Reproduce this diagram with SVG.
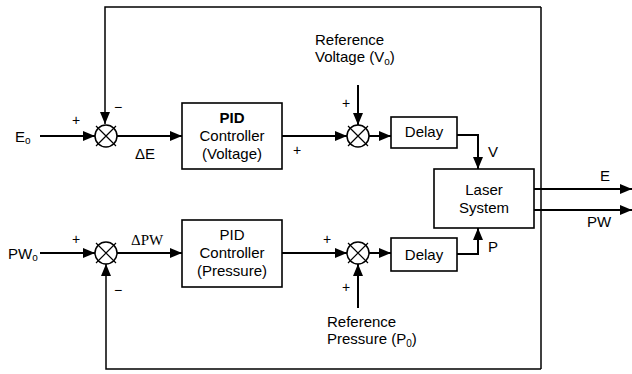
<svg xmlns="http://www.w3.org/2000/svg" width="632" height="374" viewBox="0 0 632 374">
<style>
.box{fill:#fff;stroke:#000;stroke-width:1.6}
.sum circle{fill:#fff;stroke:#000;stroke-width:1.5}
.sum path{stroke:#000;stroke-width:1.2;fill:none}
.w{stroke:#000;stroke-width:2;fill:none}
.fb{stroke:#000;stroke-width:1.5;fill:none}
text{font-family:"Liberation Sans",Arial,sans-serif;font-size:15px;fill:#000}
.c{text-anchor:middle}
.b{font-weight:bold}
.s{font-size:14px}
.serif{font-family:"Liberation Serif","Times New Roman",serif}
</style>
<defs>
<marker id="arr" markerUnits="userSpaceOnUse" viewBox="0 0 12 10" refX="12" refY="5" markerWidth="12" markerHeight="10" orient="auto">
<path d="M0,0 L12,5 L0,10 Z" fill="#000"/>
</marker>
</defs>
<g id="connectors">
<path class="fb" d="M541,7 V369"/>
<path class="fb" d="M541,7 H105 V124" marker-end="url(#arr)"/>
<path class="fb" d="M541,369 H106 V264" marker-end="url(#arr)"/>
<path class="w" d="M40,136 H95" marker-end="url(#arr)"/>
<path class="w" d="M117,136 H182" marker-end="url(#arr)"/>
<path class="w" d="M282,136 H347" marker-end="url(#arr)"/>
<path class="w" d="M358,85 V125" marker-end="url(#arr)"/>
<path class="w" d="M369,136 H391" marker-end="url(#arr)"/>
<path class="w" d="M457,135 H478 V169" marker-end="url(#arr)"/>
<path class="w" d="M534,189 H632" marker-end="url(#arr)"/>
<path class="w" d="M534,210 H632" marker-end="url(#arr)"/>
<path class="w" d="M40,253 H95" marker-end="url(#arr)"/>
<path class="w" d="M117,253 H182" marker-end="url(#arr)"/>
<path class="w" d="M282,253 H347" marker-end="url(#arr)"/>
<path class="w" d="M358,308 V264" marker-end="url(#arr)"/>
<path class="w" d="M369,253 H391" marker-end="url(#arr)"/>
<path class="w" d="M457,254 H478 V228" marker-end="url(#arr)"/>
</g>
<g id="sum1" class="sum"><circle cx="106" cy="136" r="11"/><path d="M96,126 L116,146 M116,126 L96,146"/></g>
<g id="sum2" class="sum"><circle cx="358" cy="136" r="11"/><path d="M348,126 L368,146 M368,126 L348,146"/></g>
<g id="sum3" class="sum"><circle cx="106" cy="253" r="11"/><path d="M96,243 L116,263 M116,243 L96,263"/></g>
<g id="sum4" class="sum"><circle cx="358" cy="253" r="11"/><path d="M348,243 L368,263 M368,243 L348,263"/></g>
<g id="pid_v"><rect class="box" x="182" y="103" width="100" height="66"/>
<text class="c b" x="232" y="123">PID</text><text class="c" x="232" y="141">Controller</text><text class="c" x="232" y="159">(Voltage)</text></g>
<g id="pid_p"><rect class="box" x="182" y="220" width="100" height="67"/>
<text class="c" x="232" y="240">PID</text><text class="c" x="232" y="258">Controller</text><text class="c" x="232" y="276">(Pressure)</text></g>
<g id="delay_v"><rect class="box" x="391" y="117" width="66" height="31"/><text class="c" x="424" y="137">Delay</text></g>
<g id="delay_p"><rect class="box" x="391" y="238" width="66" height="33"/><text class="c" x="424" y="260">Delay</text></g>
<g id="laser"><rect class="box" x="434" y="169" width="100" height="59"/>
<text class="c" x="484" y="195">Laser</text><text class="c" x="484" y="213">System</text></g>
<g id="labels">
<text x="15" y="142">E<tspan font-size="10" dy="2">o</tspan></text>
<text x="8" y="259">PW<tspan font-size="10" dy="2">o</tspan></text>
<text class="s" x="72" y="125">+</text>
<text class="s" x="114" y="112">−</text>
<text x="135" y="159">ΔE</text>
<text class="s" x="72" y="244">+</text>
<text class="s" x="114" y="295">−</text>
<text class="serif" x="131" y="245">ΔPW</text>
<text class="s" x="293" y="155">+</text>
<text class="s" x="342" y="108">+</text>
<text class="s" x="323" y="244">+</text>
<text class="s" x="342" y="292">+</text>
<text x="315" y="45">Reference</text>
<text x="315" y="62">Voltage (V<tspan font-size="10" dy="3">o</tspan><tspan dy="-3">)</tspan></text>
<text x="327" y="327">Reference</text>
<text x="327" y="344">Pressure (P<tspan font-size="10" dy="3">0</tspan><tspan dy="-3">)</tspan></text>
<text x="488" y="157">V</text>
<text x="488" y="252">P</text>
<text x="600" y="181">E</text>
<text x="587" y="227">PW</text>
</g>
</svg>
